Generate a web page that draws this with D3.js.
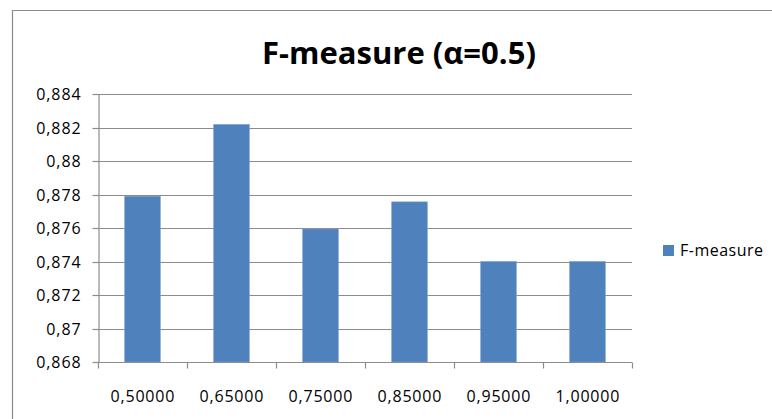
<!DOCTYPE html>
<html>
<head>
<meta charset="utf-8">
<script src="https://cdn.jsdelivr.net/npm/d3@7"></script>
<style>
  html, body { margin: 0; padding: 0; background: #fff; }
  svg { display: block; }
</style>
</head>
<body>
<svg id="chart" width="772" height="419"></svg>
<script>
// Chart data
const categories = ["0,50000", "0,65000", "0,75000", "0,85000", "0,95000", "1,00000"];
const fMeasure = [0.8779, 0.88218, 0.87594, 0.87756, 0.8740, 0.8740];
const yTicks = [0.868, 0.87, 0.872, 0.874, 0.876, 0.878, 0.88, 0.882, 0.884];
const seriesName = "F-measure";
const titleText = "F-measure (\u03b1=0.5)";

const svg = d3.select("#chart");
const plot = { left: 98, right: 632, top: 94, bottom: 362 };
const barColor = "#4F81BD";
const lineColor = "#8c8c8c";
const labelFont = "'Open Sans', sans-serif";

// Outer chart frame (left and top edges visible)
svg.append("path")
  .attr("d", "M12.5,419 V10.5 H772")
  .attr("fill", "none")
  .attr("stroke", "#8a8a8a")
  .attr("stroke-width", 1.2);

const x = d3.scaleBand()
  .domain(categories)
  .range([plot.left, plot.right])
  .paddingInner(0.6)
  .paddingOuter(0.3);

const xEdges = d3.scaleLinear()
  .domain([0, categories.length])
  .range([plot.left, plot.right]);

const y = d3.scaleLinear()
  .domain([0.868, 0.884])
  .range([plot.bottom, plot.top]);

const fmt = v => String(+v.toFixed(3)).replace(".", ",");

// Horizontal gridlines
svg.append("g")
  .selectAll("line")
  .data(yTicks.filter(t => t !== 0.868))
  .join("line")
  .attr("x1", plot.left)
  .attr("x2", plot.right)
  .attr("y1", d => Math.round(y(d)) + 0.5)
  .attr("y2", d => Math.round(y(d)) + 0.5)
  .attr("stroke", lineColor)
  .attr("stroke-width", 1.2);

// Bars
svg.append("g")
  .selectAll("rect")
  .data(categories.map((c, i) => ({ c, v: fMeasure[i] })))
  .join("rect")
  .attr("x", d => x(d.c))
  .attr("y", d => y(d.v))
  .attr("width", x.bandwidth())
  .attr("height", d => plot.bottom - y(d.v))
  .attr("fill", barColor)
  .attr("stroke", "#7a9fcf")
  .attr("stroke-width", 0.6);

// Y axis
const yAxis = svg.append("g")
  .attr("transform", `translate(${plot.left + 0.5},0)`)
  .call(d3.axisLeft(y).tickValues(yTicks).tickFormat(fmt).tickSizeInner(6).tickSizeOuter(0).tickPadding(11));
yAxis.select(".domain").attr("stroke", lineColor).attr("stroke-width", 1.2);
yAxis.selectAll(".tick line").attr("stroke", lineColor).attr("stroke-width", 1.2);
yAxis.selectAll(".tick").attr("transform", d => `translate(0,${Math.round(y(d)) + 0.5})`);
yAxis.selectAll(".tick text")
  .attr("fill", "#000")
  .attr("dy", "0.36em")
  .style("font-family", labelFont)
  .style("font-size", "16px")
  .style("letter-spacing", "0.9px");

// X axis: ticks on category boundaries
const xAxisG = svg.append("g")
  .attr("transform", `translate(0,${plot.bottom + 0.5})`);
xAxisG.append("line")
  .attr("x1", plot.left).attr("x2", plot.right)
  .attr("stroke", lineColor).attr("stroke-width", 1.2);
xAxisG.selectAll("line.edge")
  .data(d3.range(categories.length + 1))
  .join("line")
  .attr("class", "edge")
  .attr("x1", i => Math.round(xEdges(i)) + 0.5)
  .attr("x2", i => Math.round(xEdges(i)) + 0.5)
  .attr("y1", 0).attr("y2", 6)
  .attr("stroke", lineColor).attr("stroke-width", 1.2);
xAxisG.selectAll("text")
  .data(categories)
  .join("text")
  .attr("x", d => x(d) + x.bandwidth() / 2 + 0.4)
  .attr("y", 39.5)
  .attr("text-anchor", "middle")
  .style("font-family", labelFont)
  .style("font-size", "16px")
  .style("letter-spacing", "0.8px")
  .text(d => d);

// Title
svg.append("text")
  .attr("x", 399)
  .attr("y", 64)
  .attr("text-anchor", "middle")
  .style("font-family", labelFont)
  .style("font-weight", "700")
  .style("font-size", "31px")
  .text(titleText);

// Legend
const legend = svg.append("g").attr("transform", "translate(663,245)");
legend.append("rect")
  .attr("width", 11).attr("height", 11)
  .attr("fill", barColor);
legend.append("text")
  .attr("x", 17)
  .attr("y", 11)
  .style("font-family", labelFont)
  .style("font-size", "16px")
  .style("letter-spacing", "0.5px")
  .text(seriesName);
</script>
</body>
</html>
